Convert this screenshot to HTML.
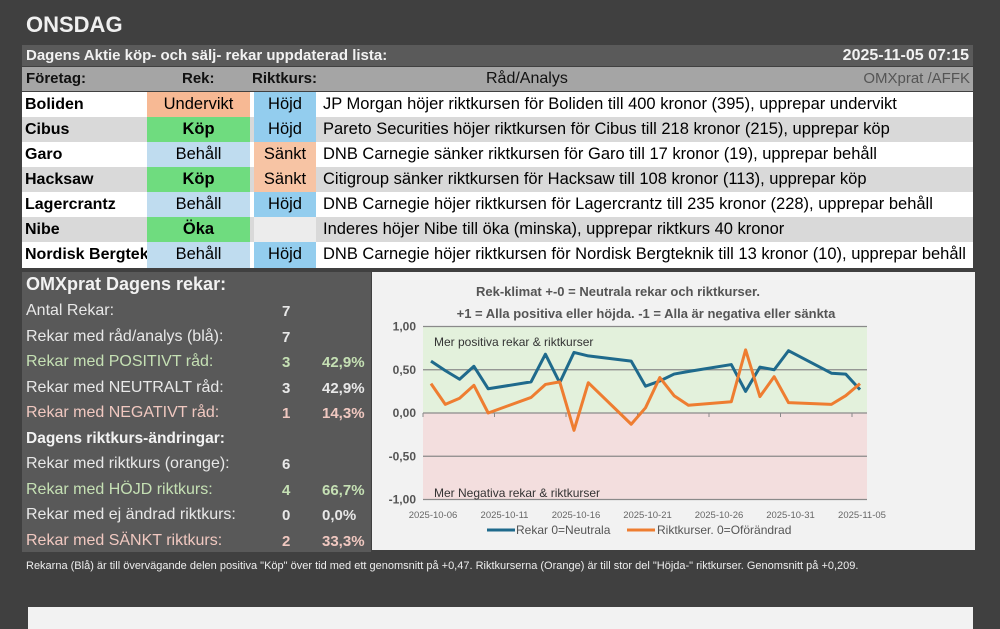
<!DOCTYPE html>
<html><head><meta charset="utf-8">
<style>
*{box-sizing:border-box;margin:0;padding:0}
body{width:1000px;height:629px;background:#404040;font-family:"Liberation Sans",sans-serif;position:relative;overflow:hidden}
.a{position:absolute;white-space:nowrap}
.row{position:absolute;left:22px;width:951px;height:26px;font-size:16.5px;line-height:25px;color:#000;overflow:hidden;white-space:nowrap}
.c{position:absolute;top:0;height:26px}
.st{position:absolute;left:26px;font-size:16px;color:#e8e8e8;white-space:nowrap}
.n{position:absolute;font-weight:bold;font-size:15px}
.p{position:absolute;font-weight:bold;font-size:15px}
</style></head><body>
<div class="a" style="left:26px;top:12px;font-size:22px;font-weight:bold;color:#f0f0f0">ONSDAG</div>
<div class="a" style="left:22px;top:45px;width:951px;height:21px;background:#5a5a5a;color:#f2f2f2;font-weight:bold;font-size:15px;line-height:21px;padding-left:4px">Dagens Aktie köp- och sälj- rekar uppdaterad lista:<span style="position:absolute;right:4px;font-size:16px">2025-11-05 07:15</span></div>
<div class="a" style="left:22px;top:67px;width:951px;height:24px;background:#a5a5a5;font-size:15px;line-height:24px;color:#111">
<span style="position:absolute;left:4px;font-weight:bold">Företag:</span>
<span style="position:absolute;left:160px;font-weight:bold">Rek:</span>
<span style="position:absolute;left:230px;font-weight:bold">Riktkurs:</span>
<span style="position:absolute;left:464px;font-size:16px">Råd/Analys</span>
<span style="position:absolute;right:3px;color:#555">OMXprat /AFFK</span></div>
<div id="rows"></div>
<div class="a" style="left:22px;top:272px;width:349px;height:280px;background:#595959"></div>
<div class="a" style="left:26px;top:274px;font-size:18px;font-weight:bold;color:#f2f2f2">OMXprat Dagens rekar:</div>
<div id="stats"></div>
<div class="a" style="left:372px;top:272px;width:603px;height:278px;background:#f2f2f2"></div>
<svg class="a" id="chart" style="left:0;top:0" width="1000" height="629"></svg>
<div class="a" style="left:26px;top:560px;font-size:11px;color:#eee">Rekarna (Blå) är till övervägande delen positiva "Köp" över tid med ett genomsnitt på +0,47. Riktkurserna (Orange) är till stor del "Höjda-" riktkurser. Genomsnitt på +0,209.</div>
<div class="a" style="left:28px;top:607px;width:945px;height:22px;background:#f2f2f2"></div>
<script>
const companies=["Boliden","Cibus","Garo","Hacksaw","Lagercrantz","Nibe","Nordisk Bergtek"];
const recs=["Undervikt","Köp","Behåll","Köp","Behåll","Öka","Behåll"];
const targets=["Höjd","Höjd","Sänkt","Sänkt","Höjd","","Höjd"];
const texts=["JP Morgan höjer riktkursen för Boliden till 400 kronor (395), upprepar undervikt","Pareto Securities höjer riktkursen för Cibus till 218 kronor (215), upprepar köp","DNB Carnegie sänker riktkursen för Garo till 17 kronor (19), upprepar behåll","Citigroup sänker riktkursen för Hacksaw till 108 kronor (113), upprepar köp","DNB Carnegie höjer riktkursen för Lagercrantz till 235 kronor (228), upprepar behåll","Inderes höjer Nibe till öka (minska), upprepar riktkurs 40 kronor","DNB Carnegie höjer riktkursen för Nordisk Bergteknik till 13 kronor (10), upprepar behåll"];
const recBg={"Undervikt":"#f7b994","Köp":"#6fdc7f","Behåll":"#bfdcef","Öka":"#6fdc7f"};
const tgBg={"Höjd":"#93cdee","Sänkt":"#f7c4a4","":"#ececec"};
const R=document.getElementById('rows');
companies.forEach((c,i)=>{
 const d=document.createElement('div');d.className='row';d.style.top=(92+i*25)+'px';
 d.style.background=i%2?'#d9d9d9':'#ffffff';
 
 
 const bold=(recs[i]=="Köp"||recs[i]=="Öka")?'bold':'normal';
 d.innerHTML=`<span class="c" style="left:3px;font-weight:bold;font-size:16px">${c}</span>`+
 `<span class="c" style="left:125px;width:103px;text-align:center;background:${recBg[recs[i]]};font-weight:${bold}">${recs[i]}</span>`+
 `<span class="c" style="left:232px;width:62px;text-align:center;background:${tgBg[targets[i]]}">${targets[i]}</span>`+
 `<span class="c" style="left:301px">${texts[i]}</span>`;
 R.appendChild(d);
});
const statLabels=["Antal Rekar:","Rekar med råd/analys (blå):","Rekar med POSITIVT råd:","Rekar med NEUTRALT råd:","Rekar med NEGATIVT råd:","Dagens riktkurs-ändringar:","Rekar med riktkurs (orange):","Rekar med HÖJD riktkurs:","Rekar med ej ändrad riktkurs:","Rekar med SÄNKT riktkurs:"];
const statNums=["7","7","3","3","1","","6","4","0","2"];
const statPct=["","","42,9%","42,9%","14,3%","","","66,7%","0,0%","33,3%"];
const statCol=["#e8e8e8","#e8e8e8","#c5e0b4","#e8e8e8","#f0c8c0","#f2f2f2","#e8e8e8","#c5e0b4","#e8e8e8","#f0c8c0"];
const S=document.getElementById('stats');
statLabels.forEach((l,i)=>{
 const y=302+i*25.5;
 const d=document.createElement('div');d.className='st';d.style.top=y+'px';d.style.color=statCol[i];
 if(i==5){d.style.fontWeight='bold';d.style.fontSize='15.5px';}
 
 
 d.innerHTML=l+`<span class="n" style="left:256px;top:1px">${statNums[i]}</span><span class="p" style="left:296px;top:1px">${statPct[i]}</span>`;
 S.appendChild(d);
});
// chart
const days=[0,1,2,3,4,7,8,9,10,11,14,15,16,17,18,21,22,23,24,25,28,29,30];
const blue=[0.60,0.49,0.39,0.54,0.28,0.36,0.68,0.35,0.70,0.66,0.60,0.31,0.37,0.45,0.48,0.56,0.25,0.53,0.50,0.72,0.46,0.45,0.27];
const orange=[0.34,0.10,0.17,0.32,0.00,0.18,0.33,0.36,-0.20,0.35,-0.13,0.06,0.41,0.20,0.09,0.13,0.73,0.19,0.42,0.12,0.10,0.20,0.34];
const yTicks=[1,0.5,0,-0.5,-1];
const yLabels=["1,00","0,50","0,00","-0,50","-1,00"];
const xTickDays=[0,5,10,15,20,25,30];
const xLabels=["2025-10-06","2025-10-11","2025-10-16","2025-10-21","2025-10-26","2025-10-31","2025-11-05"];
const X=d=>431+d*14.3, Y=v=>413-v*86.5;
const L=423,Rt=867;
const svg=document.getElementById('chart');const NS='http://www.w3.org/2000/svg';
function el(t,a,txt){const e=document.createElementNS(NS,t);for(const k in a)e.setAttribute(k,a[k]);if(txt!==undefined)e.textContent=txt;svg.appendChild(e);return e;}
let e;
e=el('rect',{x:L,y:Y(1),width:Rt-L,height:Y(0)-Y(1),fill:'#e3f1dc'});


e=el('rect',{x:L,y:Y(0),width:Rt-L,height:Y(-1)-Y(0),fill:'#f3dede'});


yTicks.forEach((t,i)=>{
 e=el('line',{x1:L,x2:Rt,y1:Y(t),y2:Y(t),stroke:'#8a8a8a','stroke-width':1.2});
 
 
 e=el('text',{x:416,y:Y(t)+4,'text-anchor':'end','font-size':12,'font-weight':'bold',fill:'#555'},yLabels[i]);
 
 
});
xTickDays.forEach((d,i)=>{
 e=el('line',{x1:X(d)-8,x2:X(d)-8,y1:Y(0),y2:Y(0)+4,stroke:'#8a8a8a'});
 
 
 e=el('text',{x:X(d)+2,y:518,'text-anchor':'middle','font-size':9.5,fill:'#666'},xLabels[i]);
 
 
});
e=el('text',{x:434,y:346,'font-size':12,fill:'#333'},'Mer positiva rekar & riktkurser');


e=el('text',{x:434,y:497,'font-size':12,fill:'#333'},'Mer Negativa rekar & riktkurser');


e=el('text',{x:618,y:296,'text-anchor':'middle','font-size':13,'font-weight':'bold',fill:'#555'},'Rek-klimat  +-0 = Neutrala rekar och riktkurser.');


e=el('text',{x:646,y:318,'text-anchor':'middle','font-size':13,'font-weight':'bold',fill:'#555'},'+1 = Alla positiva eller höjda.  -1 = Alla är negativa eller sänkta');


e=el('polyline',{points:days.map((d,i)=>X(d)+','+Y(blue[i])).join(' '),fill:'none',stroke:'#1f6a8c','stroke-width':3,'stroke-linejoin':'round'});


e=el('polyline',{points:days.map((d,i)=>X(d)+','+Y(orange[i])).join(' '),fill:'none',stroke:'#ee7d31','stroke-width':3,'stroke-linejoin':'round'});


e=el('line',{x1:487,x2:515,y1:530,y2:530,stroke:'#1f6a8c','stroke-width':3});


e=el('text',{x:516,y:534,'font-size':12,fill:'#555'},'Rekar 0=Neutrala');


e=el('line',{x1:627,x2:655,y1:530,y2:530,stroke:'#ee7d31','stroke-width':3});


e=el('text',{x:657,y:534,'font-size':12,fill:'#555'},'Riktkurser. 0=Oförändrad');


</script>
</body></html>
